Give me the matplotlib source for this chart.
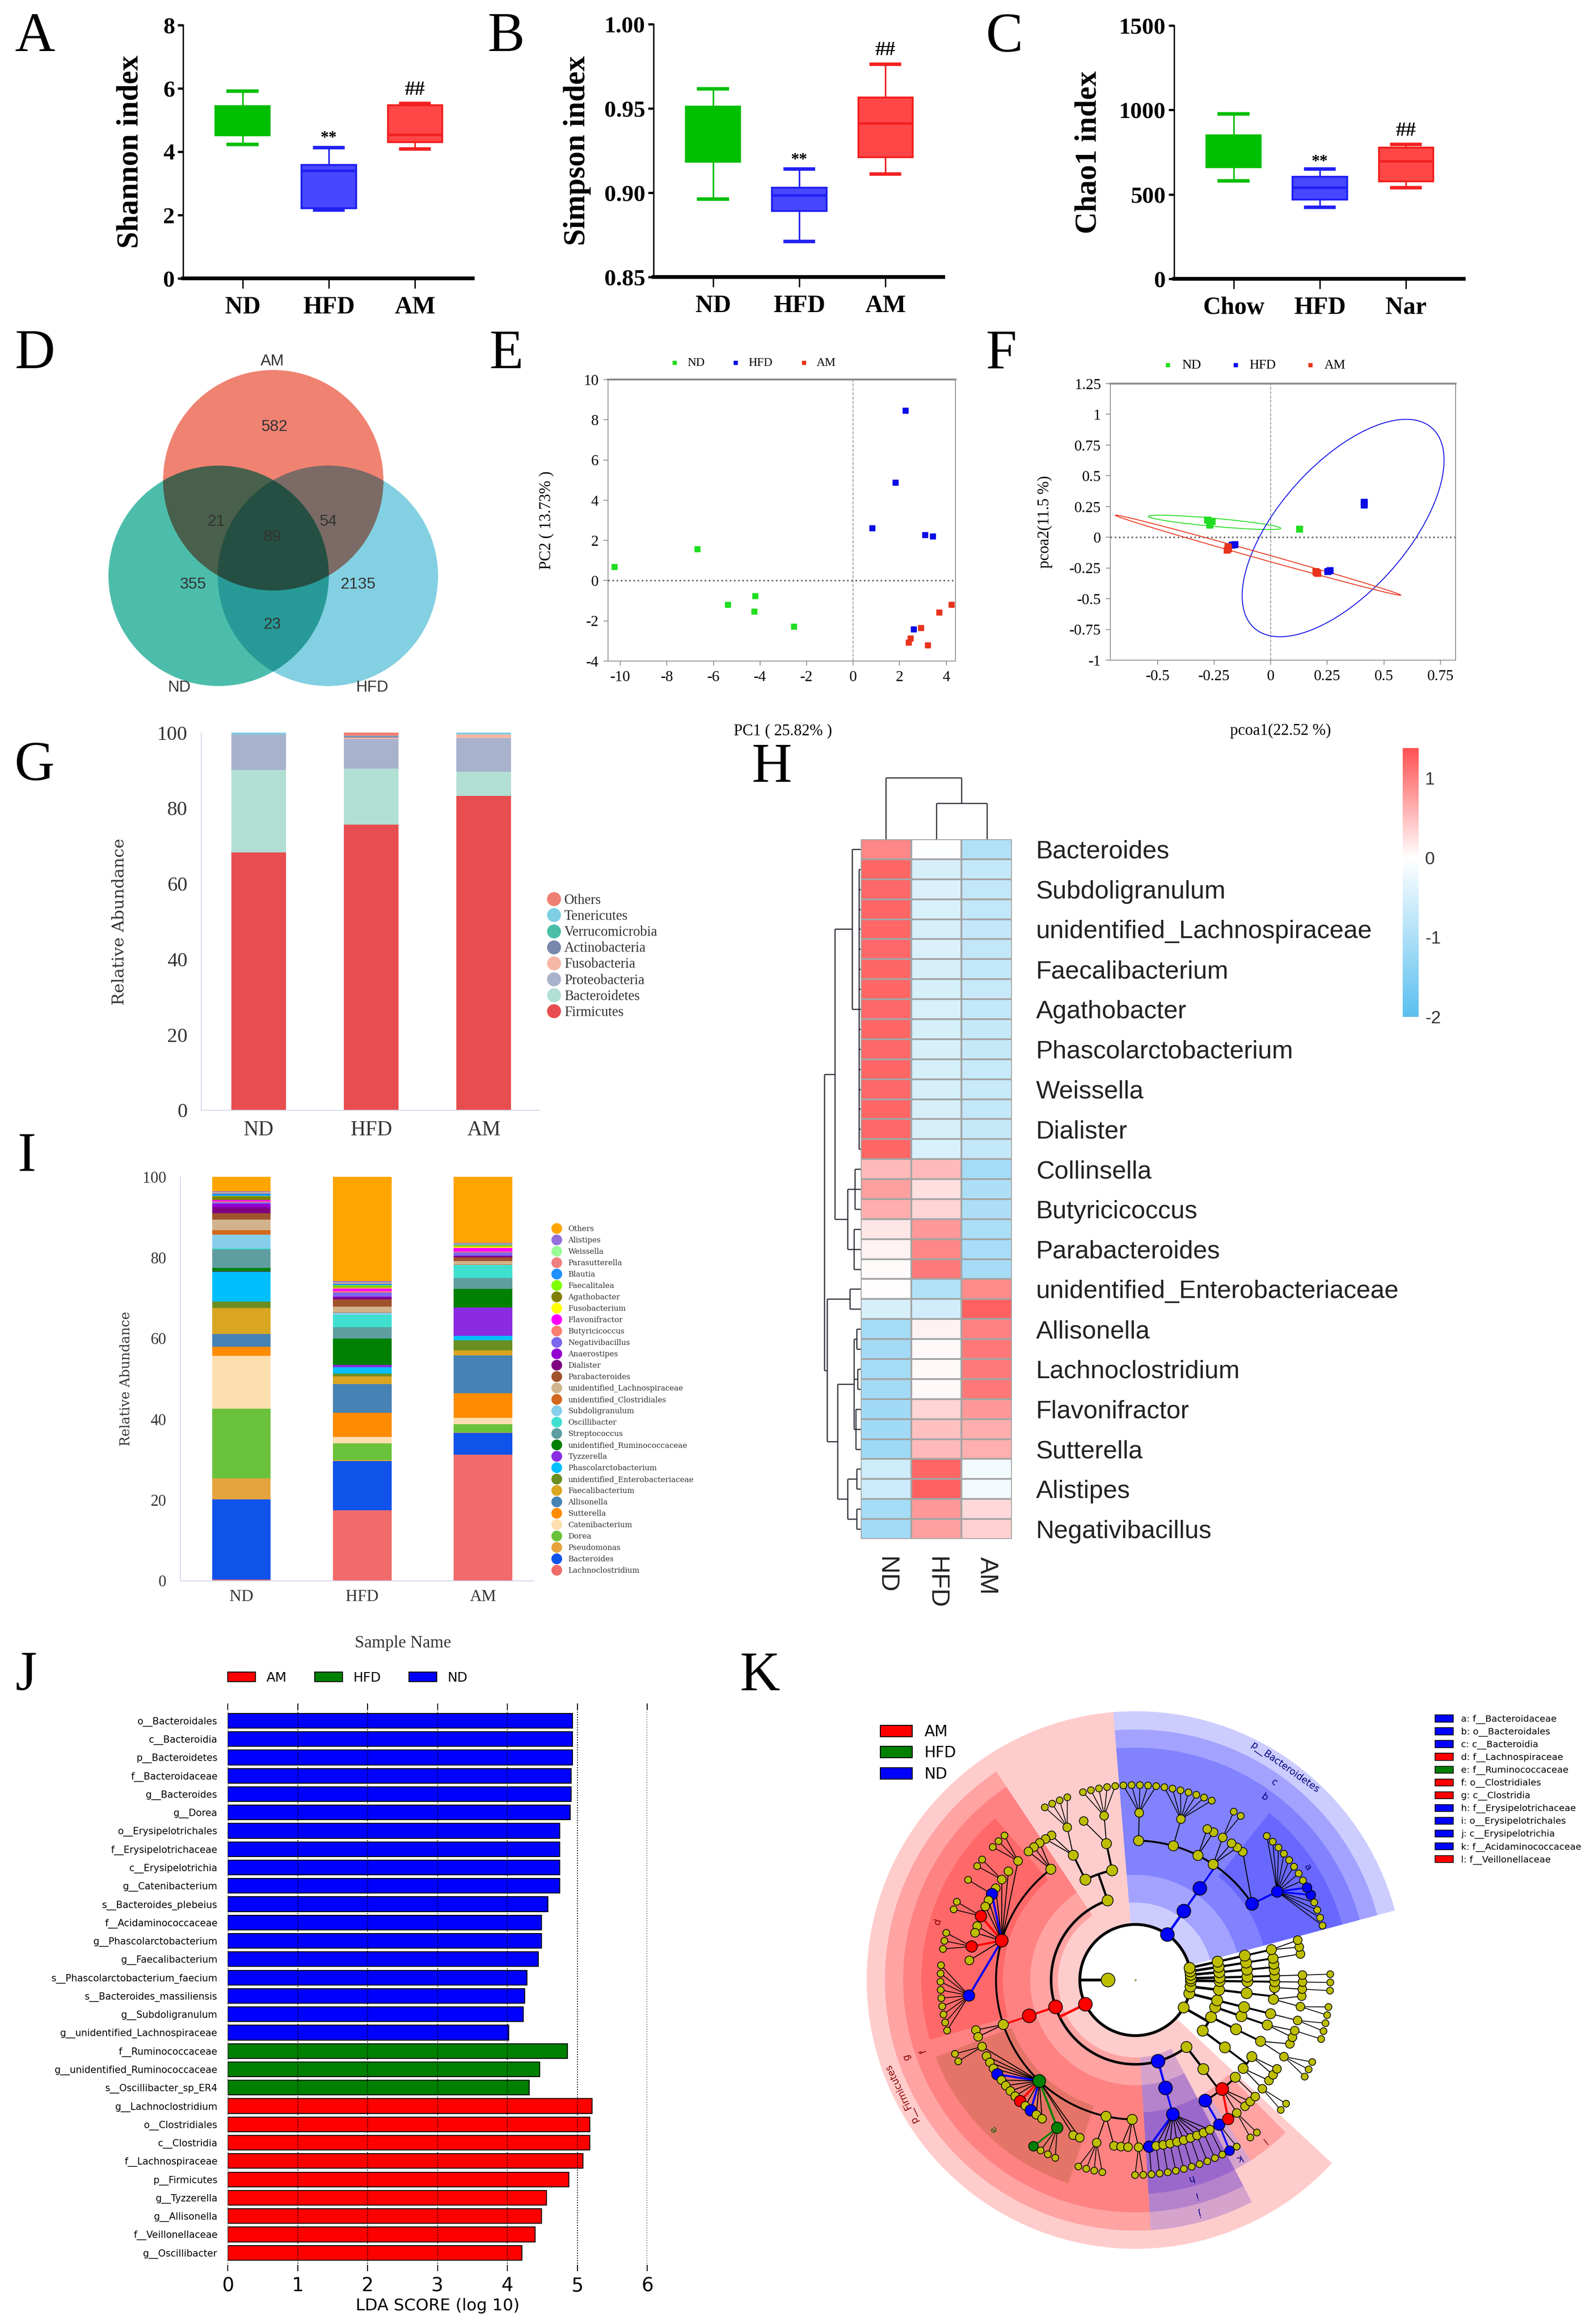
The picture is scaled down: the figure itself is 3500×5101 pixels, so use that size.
import numpy as np
import matplotlib
matplotlib.use("Agg")
import matplotlib.pyplot as plt
from matplotlib.patches import Ellipse, Wedge, Patch
from matplotlib.lines import Line2D
from matplotlib.colors import LinearSegmentedColormap, Normalize, to_rgb

plt.rcParams["axes.unicode_minus"] = False

SERIF = "Liberation Serif"
SANS = "Liberation Sans"
DSANS = "DejaVu Sans"
DSERIF = "DejaVu Serif"

# ------------------------------------------------------------------
# A-C : alpha diversity (whisker low, Q1, median, Q3, whisker high)
# ------------------------------------------------------------------
alpha_groups = ["ND", "HFD", "AM"]
chao_groups = ["Chow", "HFD", "Nar"]
shannon_nd = [4.23, 4.52, 4.95, 5.44, 5.92]
shannon_hfd = [2.16, 2.21, 3.40, 3.58, 4.13]
shannon_am = [4.09, 4.30, 4.53, 5.47, 5.53]
simpson_nd = [0.8961, 0.9184, 0.9350, 0.9510, 0.9616]
simpson_hfd = [0.8711, 0.8891, 0.8983, 0.9029, 0.9141]
simpson_am = [0.9111, 0.9210, 0.9411, 0.9566, 0.9761]
chao1_nd = [579, 661, 760, 850, 977]
chao1_hfd = [423, 469, 539, 605, 651]
chao1_am = [540, 576, 695, 778, 795]
shannon_sig = [4.43, 5.95]     # "**" over HFD, "##" over AM
simpson_sig = [0.9194, 0.9845]
chao1_sig = [692, 878]

# D : venn
venn_sets = ["AM", "ND", "HFD"]
venn_counts = [582, 21, 54, 89, 355, 2135, 23]  # AM, AM&ND, AM&HFD, all, ND, HFD, ND&HFD

# E : PCA
e_nd_x = [-10.26, -6.69, -4.20, -5.38, -4.24, -2.54]
e_nd_y = [0.68, 1.58, -0.75, -1.18, -1.54, -2.28]
e_hfd_x = [2.25, 1.82, 0.82, 3.08, 3.43, 2.60]
e_hfd_y = [8.47, 4.87, 2.61, 2.28, 2.21, -2.41]
e_am_x = [4.22, 3.69, 2.91, 2.47, 2.39, 3.21]
e_am_y = [-1.18, -1.58, -2.34, -2.87, -3.07, -3.21]

# F : PCoA
f_nd_x = [-0.28, -0.27, -0.27, -0.26, -0.27, 0.126]
f_nd_y = [0.14, 0.12, 0.10, 0.13, 0.115, 0.067]
f_hfd_x = [0.413, 0.413, -0.171, 0.252, 0.262, -0.160]
f_hfd_y = [0.285, 0.265, -0.063, -0.276, -0.270, -0.060]
f_am_x = [-0.190, -0.193, -0.188, 0.198, 0.207, 0.200]
f_am_y = [-0.076, -0.102, -0.090, -0.276, -0.293, -0.285]
# confidence ellipses: centre x, centre y, width, height, angle
f_ell_nd = [-0.248, 0.121, 0.593, 0.065, -9.5]
f_ell_hfd = [0.32, 0.075, 1.868, 0.66, 69.9]
f_ell_am = [-0.056, -0.146, 1.42, 0.045, -27.3]

# G : phylum relative abundance (ND, HFD, AM), stacked bottom -> top
g_groups = ["ND", "HFD", "AM"]
g_phyla = ["Firmicutes", "Bacteroidetes", "Proteobacteria", "Fusobacteria",
           "Actinobacteria", "Verrucomicrobia", "Tenericutes", "Others"]
g_firmicutes = [68.3, 75.6, 83.2]
g_bacteroidetes = [21.8, 14.9, 6.4]
g_proteobacteria = [9.4, 7.8, 9.0]
g_fusobacteria = [0.0, 0.4, 0.9]
g_actinobacteria = [0.0, 0.3, 0.05]
g_verrucomicrobia = [0.0, 0.05, 0.0]
g_tenericutes = [0.5, 0.05, 0.45]
g_others = [0.0, 0.9, 0.0]
g_colors = ["#E84E4F", "#B2DFD4", "#A8B2CC", "#F5B7A5", "#7888AC", "#4ABFA8", "#7ECEE4", "#EE7F72"]

# I : genus relative abundance, stacked bottom -> top
i_genera = ["Lachnoclostridium", "Bacteroides", "Pseudomonas", "Dorea", "Catenibacterium",
            "Sutterella", "Allisonella", "Faecalibacterium", "unidentified_Enterobacteriaceae",
            "Phascolarctobacterium", "Tyzzerella", "unidentified_Ruminococcaceae", "Streptococcus",
            "Oscillibacter", "Subdoligranulum", "unidentified_Clostridiales",
            "unidentified_Lachnospiraceae", "Parabacteroides", "Dialister", "Anaerostipes",
            "Negativibacillus", "Butyricicoccus", "Flavonifractor", "Fusobacterium", "Agathobacter",
            "Faecalitalea", "Blautia", "Parasutterella", "Weissella", "Alistipes", "Others"]
i_nd = [0.3, 19.9, 5.2, 17.2, 13.1, 2.2, 3.2, 6.4, 1.6, 7.3, 0.1, 0.9, 4.7, 0.2, 3.4, 1.1,
        2.6, 1.6, 1.5, 0.9, 0.3, 0.2, 0.3, 0.1, 0.8, 0.2, 0.5, 0.2, 0.2, 0.2, 3.6]
i_hfd = [17.5, 12.2, 0.15, 4.2, 1.6, 6.0, 7.0, 2.0, 0.7, 1.5, 0.6, 6.5, 2.8, 3.1, 0.6, 0.1,
         1.3, 1.8, 0.5, 0.2, 1.0, 0.4, 0.6, 0.3, 0.2, 0.3, 0.3, 0.3, 0.1, 0.3, 25.85]
i_am = [31.2, 5.4, 0.1, 2.1, 1.6, 6.1, 9.3, 1.3, 2.4, 1.1, 7.0, 4.7, 2.7, 3.1, 0.1, 0.1,
        0.8, 0.9, 0.4, 0.1, 0.8, 0.2, 0.9, 0.4, 0.1, 0.2, 0.1, 0.1, 0.1, 0.2, 16.4]
i_colors = ["#F26B6B", "#1053EA", "#E6A33E", "#6AC23A", "#FDDEAF", "#FF8C00", "#4682B4",
            "#DAA520", "#6B8E23", "#00BFFF", "#8A2BE2", "#008000", "#5F9EA0", "#40E0D0",
            "#87CEEB", "#D2691E", "#D2B48C", "#A0522D", "#800080", "#9400D3", "#7B68EE",
            "#FA8072", "#FF00FF", "#FFFF00", "#808000", "#7FFF00", "#1E90FF", "#F08080",
            "#98FB98", "#9370DB", "#FFA500"]

# H : heatmap (row z-scores, 35 genera; every other row labelled)
h_cols = ["ND", "HFD", "AM"]
h_nd = [0.95, 1.22, 1.20, 1.22, 1.21, 1.20, 1.22, 1.21, 1.20, 1.22, 1.20, 1.21, 1.20, 1.22,
        1.20, 1.21, 0.55, 0.75, 0.65, 0.20, 0.10, 0.03, 0.02, -0.50, -1.10, -1.12, -1.10,
        -1.12, -1.15, -1.15, -1.18, -0.60, -0.62, -1.10, -1.12]
h_hfd = [-0.02, -0.50, -0.45, -0.48, -0.50, -0.45, -0.50, -0.52, -0.48, -0.52, -0.50, -0.52,
         -0.52, -0.50, -0.50, -0.48, 0.55, 0.25, 0.35, 0.82, 0.95, 1.05, -0.95, -0.55, 0.10,
         0.05, 0.05, 0.05, 0.35, 0.50, 0.55, 1.22, 1.25, 0.80, 0.75]
h_am = [-0.95, -0.72, -0.75, -0.74, -0.71, -0.75, -0.72, -0.69, -0.72, -0.70, -0.70, -0.69,
        -0.68, -0.72, -0.70, -0.73, -1.10, -1.00, -1.00, -1.02, -1.05, -1.08, 0.93, 1.25,
        1.00, 1.07, 1.05, 1.07, 0.80, 0.65, 0.63, -0.15, -0.15, 0.30, 0.37]
h_labels = ["Bacteroides", "Subdoligranulum", "unidentified_Lachnospiraceae", "Faecalibacterium",
            "Agathobacter", "Phascolarctobacterium", "Weissella", "Dialister", "Collinsella",
            "Butyricicoccus", "Parabacteroides", "unidentified_Enterobacteriaceae", "Allisonella",
            "Lachnoclostridium", "Flavonifractor", "Sutterella", "Alistipes", "Negativibacillus"]
# dendrograms: (merge height, children); leaves are row / column indices
h_row_tree = (68, [(48, [(16, [0, (3, list(range(1, 16)))]),
                         (25, [(11, [16, 17, 18]), (13, [19, 20, 21])])]),
                   (63, [(20, [22, 23]),
                         (43, [(13, [(8, [24, 25]), (6, [26, 27]), (9, [28, 29, 30])]),
                               (25, [(8, [31, 32]), (8, [33, 34])])])])])
h_col_tree = (135, [0, (79, [1, 2])])

# J : LEfSe LDA scores
lda_names = ["o__Bacteroidales", "c__Bacteroidia", "p__Bacteroidetes", "f__Bacteroidaceae",
             "g__Bacteroides", "g__Dorea", "o__Erysipelotrichales", "f__Erysipelotrichaceae",
             "c__Erysipelotrichia", "g__Catenibacterium", "s__Bacteroides_plebeius",
             "f__Acidaminococcaceae", "g__Phascolarctobacterium", "g__Faecalibacterium",
             "s__Phascolarctobacterium_faecium", "s__Bacteroides_massiliensis",
             "g__Subdoligranulum", "g__unidentified_Lachnospiraceae", "f__Ruminococcaceae",
             "g__unidentified_Ruminococcaceae", "s__Oscillibacter_sp_ER4", "g__Lachnoclostridium",
             "o__Clostridiales", "c__Clostridia", "f__Lachnospiraceae", "p__Firmicutes",
             "g__Tyzzerella", "g__Allisonella", "f__Veillonellaceae", "g__Oscillibacter"]
lda_scores = [4.93, 4.93, 4.93, 4.91, 4.91, 4.90, 4.75, 4.75, 4.75, 4.75, 4.58, 4.49, 4.49,
              4.44, 4.28, 4.25, 4.23, 4.02, 4.86, 4.46, 4.31, 5.21, 5.18, 5.18, 5.08, 4.88,
              4.56, 4.49, 4.40, 4.21]
lda_groups = ["ND"] * 18 + ["HFD"] * 3 + ["AM"] * 9
lefse_groups = ["AM", "HFD", "ND"]

# K : cladogram, node = (enriched group, clade letter, children)
# children: int = number of plain child leaves, or a list mixing nodes and ints
k_legend_keys = ["a: f__Bacteroidaceae", "b: o__Bacteroidales", "c: c__Bacteroidia",
                 "d: f__Lachnospiraceae", "e: f__Ruminococcaceae", "f: o__Clostridiales",
                 "g: c__Clostridia", "h: f__Erysipelotrichaceae", "i: o__Erysipelotrichales",
                 "j: c__Erysipelotrichia", "k: f__Acidaminococcaceae", "l: f__Veillonellaceae"]
k_legend_groups = ["ND", "ND", "ND", "AM", "HFD", "AM", "AM", "ND", "ND", "ND", "ND", "AM"]
k_bacteroidetes = ("ND", "p__Bacteroidetes", [
    ("ND", "c", [("ND", "b", [
        ("ND", "a", [("ND", "", [4, ("ND", "", 0), ("ND", "", 0), 8]), 1]),
        ("", "", [2, ("", "", 2)]),
        ("", "", [2]),
        ("", "", [("", "", 7)]),
        ("", "", [("", "", 5)]),
    ])])])
k_firmicutes = ("AM", "p__Firmicutes", [
    ("", "", [("", "", [("", "", [("", "", 5), 1])]),
              ("", "", [("", "", [("", "", 4), 2])])]),
    ("AM", "g", [("AM", "f", [
        ("", "", [3]),
        ("AM", "d", [("", "", 3), 1, ("", "", 2), 1, ("ND", "", 1), 2, ("AM", "", 2), 2,
                     ("AM", "", 3), 1, ("ND", "", 9)]),
        ("", "", [2]),
        ("HFD", "e", [("", "", 2), 3, ("ND", "", 0), 4, ("AM", "", 0), 1, ("ND", "", 0), 2,
                      ("HFD", "", [("HFD", "", 0), 3]), 2]),
        ("", "", [("", "", 4), 1]),
        ("", "", [2, ("", "", 2)]),
    ])]),
    ("ND", "j", [("ND", "i", [("ND", "h", [("ND", "", 1), ("", "", 1), ("", "", 1), ("", "", 1),
                                           ("", "", 1), ("", "", 1), ("", "", 1), ("", "", 1),
                                           ("", "", 1), ("", "", 1)])])]),
    ("", "", [("", "", [
        ("ND", "k", [("ND", "", [("ND", "", 0), 1])]),
        ("AM", "l", [("AM", "", 0), ("", "", 2), 2]),
        ("", "", [1]),
    ])]),
])
k_other_phyla = [
    ("", "", [("", "", [("", "", [("", "", [("", "", 2), 1]), ("", "", [2])])]),
              ("", "", [("", "", [("", "", [("", "", 3), 1])])]),
              ("", "", [("", "", [("", "", [1, ("", "", 1)])])])]),
    ("", "", [("", "", [("", "", [("", "", [("", "", 2)])])])]),
    ("", "", [("", "", [("", "", [("", "", [("", "", 2), 1]), ("", "", [("", "", 1)])])])]),
    ("", "", [("", "", [("", "", [("", "", [("", "", 1)])])])]),
    ("", "", [("", "", [("", "", [("", "", [("", "", 1)])])])]),
    ("", "", [("", "", [("", "", [2])])]),
    ("", "", [("", "", [("", "", [("", "", [1])])])]),
    ("", "", [("", "", [("", "", [("", "", 2)])])]),
]
k_tree = ("", "", [k_bacteroidetes, k_firmicutes] + k_other_phyla)

# ------------------------------------------------------------------
# figure
# ------------------------------------------------------------------
W, H = 3500, 5101
fig = plt.figure(figsize=(W / 100, H / 100), dpi=100)


def px_axes(x0, y0, x1, y1):
    return fig.add_axes([x0 / W, 1 - y1 / H, (x1 - x0) / W, (y1 - y0) / H])


def panel_letter(x, y, s):
    fig.text(x / W, 1 - y / H, s, fontsize=88, family=SERIF, ha="left", va="top")


for x, y, s in [(33, 27, "A"), (1071, 27, "B"), (2165, 27, "C"), (33, 722, "D"), (1075, 722, "E"),
                (2165, 722, "F"), (32, 1627, "G"), (1650, 1630, "H"), (39, 2484, "I"),
                (33, 3624, "J"), (1624, 3624, "K")]:
    panel_letter(x, y, s)

# ---------------- A-C box plots ----------------
box_face = ["#00BE00", "#4747FF", "#FF4747"]
box_edge = ["#00BE00", "#2020F2", "#F22020"]


def box_panel(rect, data, cats, ylim, yticks, ylabel, label_x, sig):
    ax = px_axes(*rect)
    for i, vals in enumerate(data):
        st = dict(whislo=vals[0], q1=vals[1], med=vals[2], q3=vals[3], whishi=vals[4], fliers=[])
        ax.bxp([st], positions=[i], widths=0.63, capwidths=0.33, patch_artist=True,
               showfliers=False, manage_ticks=False,
               boxprops=dict(facecolor=box_face[i], edgecolor=box_edge[i], linewidth=3),
               medianprops=dict(color=box_edge[i], linewidth=4),
               whiskerprops=dict(color=box_edge[i], linewidth=2.5),
               capprops=dict(color=box_edge[i], linewidth=5.5))
    ax.text(1, sig[0], "**", ha="center", va="center", fontsize=26, fontweight="bold", family=SERIF)
    ax.text(2, sig[1], "##", ha="center", va="center", fontsize=32, fontweight="bold", family=SERIF)
    ax.set_xlim(-0.69, 2.67)
    ax.set_ylim(*ylim)
    ax.spines[["top", "right"]].set_visible(False)
    ax.spines["left"].set_linewidth(2.2)
    ax.spines["bottom"].set_linewidth(6)
    ax.set_xticks([0, 1, 2], cats, fontsize=39, fontweight="bold", family=SERIF)
    ax.set_yticks(yticks[0], yticks[1], fontsize=37, fontweight="bold", family=SERIF)
    ax.tick_params(axis="y", direction="out", length=9, width=3.5, pad=4)
    ax.tick_params(axis="x", direction="out", length=16, width=2.2, pad=12)
    ax.set_ylabel(ylabel, fontsize=48, fontweight="bold", family=SERIF)
    ax.yaxis.set_label_coords(label_x, 0.5)
    return ax


box_panel((402, 55, 1038, 611), [shannon_nd, shannon_hfd, shannon_am], alpha_groups, (0, 8),
          ([0, 2, 4, 6, 8], ["0", "2", "4", "6", "8"]), "Shannon index", -0.135, shannon_sig)
box_panel((1435, 53, 2071, 608), [simpson_nd, simpson_hfd, simpson_am], alpha_groups, (0.85, 1.0),
          ([0.85, 0.90, 0.95, 1.00], ["0.85", "0.90", "0.95", "1.00"]), "Simpson index", -0.215,
          simpson_sig)
box_panel((2578, 56, 3214, 612), [chao1_nd, chao1_hfd, chao1_am], chao_groups, (0, 1500),
          ([0, 500, 1000, 1500], ["0", "500", "1000", "1500"]), "Chao1 index", -0.247, chao1_sig)

# ---------------- D venn ----------------
venn_colors = ["#F08272", "#4DBEAB", "#83D0E2"]
venn_centers = [(600, 1054), (480, 1264), (720, 1264)]
venn_r = 242
venn_set_xy = [(598, 793), (393, 1508), (817, 1508)]
venn_count_xy = [(603, 937), (475, 1145), (721, 1145), (598, 1178), (424, 1283), (786, 1283),
                 (598, 1371)]
axd = px_axes(150, 760, 1000, 1560)
gx, gy = np.meshgrid(np.arange(150, 1000, 0.5) + 0.25, np.arange(760, 1560, 0.5) + 0.25)
rgb = np.ones(gx.shape + (3,))
inside = np.zeros(gx.shape, bool)
for (cx, cy), col in zip(venn_centers, venn_colors):
    m = (gx - cx) ** 2 + (gy - cy) ** 2 <= venn_r ** 2
    rgb[m] *= np.array(to_rgb(col))
    inside |= m
axd.imshow(np.dstack([rgb, inside.astype(float)]), extent=(150, 1000, 1560, 760),
           interpolation="antialiased")
axd.set_xlim(150, 1000)
axd.set_ylim(1560, 760)
axd.axis("off")
for (x, y), s in zip(venn_set_xy, venn_sets):
    axd.text(x, y, s, ha="center", va="center", fontsize=25, family=SANS, color="#333333")
for (x, y), n in zip(venn_count_xy, venn_counts):
    axd.text(x, y, str(n), ha="center", va="center", fontsize=25, family=SANS, color="#333333")

# ---------------- E / F ordination ----------------
C_ND, C_HFD, C_AM = "#22DD22", "#0A0AE6", "#E8341C"


def ordination_axes(rect):
    ax = px_axes(*rect)
    for side in ["top", "bottom", "left", "right"]:
        ax.spines[side].set_color("#8C8C8C")
        ax.spines[side].set_linewidth(1.3)
    ax.spines["top"].set_linewidth(3)
    ax.tick_params(direction="out", length=7, width=1.3, color="#8C8C8C", labelsize=24, pad=8)
    ax.axvline(0, color="#999999", ls="--", lw=1.3, zorder=1)
    ax.axhline(0, color="#666666", ls=":", lw=2.5, zorder=1)
    return ax


axe = ordination_axes((1335, 833, 2098, 1451))
axe.scatter(e_nd_x, e_nd_y, marker="s", s=70, color=C_ND, label="ND", zorder=3)
axe.scatter(e_hfd_x, e_hfd_y, marker="s", s=70, color=C_HFD, label="HFD", zorder=3)
axe.scatter(e_am_x, e_am_y, marker="s", s=70, color=C_AM, label="AM", zorder=3)
axe.set_xlim(-10.53, 4.4)
axe.set_ylim(-4, 10)
axe.set_xticks(range(-10, 5, 2), [str(v) for v in range(-10, 5, 2)], family=SERIF)
axe.set_yticks(range(-4, 11, 2), [str(v) for v in range(-4, 11, 2)], family=SERIF)
axe.set_xlabel("PC1 ( 25.82% )", fontsize=25, family=SERIF)
axe.xaxis.set_label_coords(0.503, -0.222)
axe.set_ylabel("PC2 ( 13.73% )", fontsize=25, family=SERIF)
axe.yaxis.set_label_coords(-0.155, 0.5)
axe.legend(loc="center", bbox_to_anchor=(0.406, 1.06), ncol=3, frameon=False,
           prop=dict(family=SERIF, size=19), handletextpad=0.05, columnspacing=1.6,
           markerscale=0.7, borderpad=0)

axf = ordination_axes((2438, 842, 3196, 1449))
for ell, col in [(f_ell_nd, C_ND), (f_ell_hfd, C_HFD), (f_ell_am, C_AM)]:
    axf.add_patch(Ellipse((ell[0], ell[1]), ell[2], ell[3], angle=ell[4], fill=False,
                          edgecolor=col, lw=1.4, zorder=2))
axf.scatter(f_nd_x, f_nd_y, marker="s", s=110, color=C_ND, label="ND", zorder=3)
axf.scatter(f_hfd_x, f_hfd_y, marker="s", s=110, color=C_HFD, label="HFD", zorder=3)
axf.scatter(f_am_x, f_am_y, marker="s", s=110, color=C_AM, label="AM", zorder=3)
axf.set_xlim(-0.709, 0.817)
axf.set_ylim(-1, 1.25)
f_xt = [-0.5, -0.25, 0, 0.25, 0.5, 0.75]
f_yt = [-1, -0.75, -0.5, -0.25, 0, 0.25, 0.5, 0.75, 1, 1.25]
axf.set_xticks(f_xt, [f"{v:g}" for v in f_xt], family=SERIF)
axf.set_yticks(f_yt, [f"{v:g}" for v in f_yt], family=SERIF)
axf.set_xlabel("pcoa1(22.52 %)", fontsize=25, family=SERIF)
axf.xaxis.set_label_coords(0.493, -0.229)
axf.set_ylabel("pcoa2(11.5 %)", fontsize=25, family=SERIF)
axf.yaxis.set_label_coords(-0.168, 0.5)
axf.legend(loc="center", bbox_to_anchor=(0.405, 1.066), ncol=3, frameon=False,
           prop=dict(family=SERIF, size=21), handletextpad=0.05, columnspacing=1.6,
           markerscale=0.6, borderpad=0)

# ---------------- G phylum stacked bars ----------------
LAV = "#D3D8EC"
axg = px_axes(442, 1608, 1186, 2437)
g_series = [g_firmicutes, g_bacteroidetes, g_proteobacteria, g_fusobacteria, g_actinobacteria,
            g_verrucomicrobia, g_tenericutes, g_others]
bottom = np.zeros(3)
for vals, col in zip(g_series, g_colors):
    axg.bar(range(3), vals, 0.486, bottom=bottom, color=col, lw=0)
    bottom += np.array(vals)
axg.set_xlim(-0.51, 2.5)
axg.set_ylim(0, 100)
axg.spines[["top", "right"]].set_visible(False)
axg.spines[["left", "bottom"]].set_color(LAV)
axg.spines[["left", "bottom"]].set_linewidth(1.5)
axg.set_xticks(range(3), g_groups, fontsize=33, family=SERIF, color="#333333")
axg.set_yticks(range(0, 101, 20), [str(v) for v in range(0, 101, 20)], fontsize=32, family=SERIF,
               color="#333333")
axg.tick_params(length=0)
axg.tick_params(axis="y", pad=22)
axg.tick_params(axis="x", pad=16)
axg.set_ylabel("Relative Abundance", fontsize=26, family=DSERIF, color="#333333")
axg.yaxis.set_label_coords(-0.22, 0.5)
g_handles = [Line2D([], [], ls="", marker="o", ms=21, mfc=c, mec=c) for c in g_colors[::-1]]
axg.legend(g_handles, g_phyla[::-1], loc="upper left", bbox_to_anchor=(1199 / W, 1 - 1962 / H),
           bbox_transform=fig.transFigure, frameon=False, prop=dict(family=SERIF, size=22),
           handlelength=1.1, handletextpad=0.2, labelspacing=0.2, borderpad=0, borderaxespad=0,
           labelcolor="#333333")

# ---------------- I genus stacked bars ----------------
axi = px_axes(396, 2583, 1172, 3470)
bottom = np.zeros(3)
for a, b, c, col in zip(i_nd, i_hfd, i_am, i_colors):
    vals = np.array([a, b, c])
    axi.bar(range(3), vals, 0.486, bottom=bottom, color=col, lw=0)
    bottom += vals
axi.set_xlim(-0.505, 2.42)
axi.set_ylim(0, 100)
axi.spines[["top", "right"]].set_visible(False)
axi.spines[["left", "bottom"]].set_color(LAV)
axi.spines[["left", "bottom"]].set_linewidth(1.5)
axi.set_xticks(range(3), g_groups, fontsize=26, family=SERIF, color="#333333")
axi.set_yticks(range(0, 101, 20), [str(v) for v in range(0, 101, 20)], fontsize=25, family=SERIF,
               color="#333333")
axi.tick_params(length=0)
axi.tick_params(axis="y", pad=22)
axi.tick_params(axis="x", pad=14)
axi.set_ylabel("Relative Abundance", fontsize=21, family=DSERIF, color="#333333")
axi.yaxis.set_label_coords(-0.135, 0.5)
axi.set_xlabel("Sample Name", fontsize=27, family=SERIF, color="#333333")
axi.xaxis.set_label_coords(0.63, -0.135)
i_handles = [Line2D([], [], ls="", marker="o", ms=16, mfc=c, mec=c) for c in i_colors[::-1]]
axi.legend(i_handles, i_genera[::-1], loc="upper left", bbox_to_anchor=(1210 / W, 1 - 2689 / H),
           bbox_transform=fig.transFigure, frameon=False, prop=dict(family=DSERIF, size=12),
           handlelength=1.4, handletextpad=0.85, labelspacing=0.48, borderpad=0, borderaxespad=0,
           labelcolor="#333333")

# ---------------- H heatmap ----------------
hm_cmap = LinearSegmentedColormap.from_list(
    "hm", [(0, "#5BBFEF"), (2 / 3.38, "#FFFFFF"), (1, "#FF5252")])
hm_norm = Normalize(vmin=-2, vmax=1.38)
hm = np.column_stack([h_nd, h_hfd, h_am])
n_rows = hm.shape[0]
axh = px_axes(1890, 1842, 2222, 3378)
mesh = axh.pcolormesh(np.arange(4), np.arange(n_rows + 1), hm, cmap=hm_cmap, norm=hm_norm,
                      edgecolors="#A5A5A5", linewidth=1.6)
axh.set_xlim(0, 3)
axh.set_ylim(n_rows, 0)
for s in axh.spines.values():
    s.set_visible(False)
axh.yaxis.tick_right()
axh.set_yticks(np.arange(0, n_rows, 2) + 0.5, h_labels, fontsize=40, family=SANS, color="#222222")
axh.set_xticks(np.arange(3) + 0.5, h_cols, fontsize=40, family=SANS, rotation=-90, color="#222222")
axh.tick_params(length=0)
axh.tick_params(axis="y", pad=38)
axh.tick_params(axis="x", pad=28)


def dendro(ax, node, orient):
    if isinstance(node, int):
        return node + 0.5, 0.0
    h, kids = node
    res = [dendro(ax, k, orient) for k in kids]
    pos = [p for p, _ in res]
    segs = [((p, kh), (p, h)) for p, kh in res] + [((min(pos), h), (max(pos), h))]
    for (p0, h0), (p1, h1) in segs:
        if orient == "row":
            ax.plot([h0, h1], [p0, p1], color="#2B2B35", lw=1.8, solid_capstyle="butt")
        else:
            ax.plot([p0, p1], [h0, h1], color="#2B2B35", lw=1.8, solid_capstyle="butt")
    return (min(pos) + max(pos)) / 2, h


axrd = px_axes(1809, 1842, 1890, 3378)
dendro(axrd, h_row_tree, "row")
axrd.set_xlim(68.7, 0)
axrd.set_ylim(n_rows, 0)
axrd.axis("off")
axcd = px_axes(1890, 1700, 2222, 1842)
dendro(axcd, h_col_tree, "col")
axcd.set_xlim(0, 3)
axcd.set_ylim(0, 142)
axcd.axis("off")
cax = px_axes(3080, 1642, 3115, 2232)
cb = fig.colorbar(mesh, cax=cax, ticks=[-2, -1, 0, 1])
cb.outline.set_visible(False)
cax.tick_params(length=0, labelsize=28, pad=10)
for t in cax.get_yticklabels():
    t.set_family(SANS)
    t.set_color("#333333")

# ---------------- J LDA bars ----------------
GROUP_COL = {"AM": "#FF0000", "HFD": "#008000", "ND": "#0000FF"}
axj = px_axes(500, 3739, 1421, 4985)
axj.barh(range(len(lda_scores)), lda_scores, height=0.8,
         color=[GROUP_COL[g] for g in lda_groups], edgecolor="black", lw=1.5, zorder=1)
axj.set_xlim(0, 6)
axj.set_ylim(30.0, -0.94)
axj.set_axisbelow(False)
axj.grid(axis="x", color="black", ls=":", lw=1.5, zorder=3)
for s in axj.spines.values():
    s.set_visible(False)
axj.set_yticks(range(len(lda_names)), lda_names, fontsize=15, family=DSANS)
axj.set_xticks(range(7), [str(v) for v in range(7)], fontsize=30, family=DSANS)
axj.tick_params(axis="y", length=0, pad=16)
axj.tick_params(axis="x", direction="in", top=True, bottom=True, length=10, width=1.5, pad=8)
axj.set_xlabel("LDA SCORE (log 10)", fontsize=26, family=DSANS)
axj.legend([Patch(facecolor=GROUP_COL[g], edgecolor="black", lw=1.5) for g in lefse_groups],
           lefse_groups, loc="center left", bbox_to_anchor=(0.0, 1.045), ncol=3, frameon=False,
           prop=dict(family=DSANS, size=21), handlelength=2.1, handleheight=0.75,
           handletextpad=0.8, columnspacing=2.1, borderpad=0, borderaxespad=0)

# ---------------- K cladogram ----------------
KX, KY = 2493, 5101 - 4346
R_LEVEL = [60, 122, 185, 246, 306, 367, 428]
WEDGE_OUT = {1: 590, 2: 550, 3: 510, 4: 470}
LABEL_R = {1: 570, 2: 530, 3: 491, 4: 452}
EDGE_LW = {0: 4.5, 1: 4.0, 2: 3.5, 3: 3.0, 4: 1.5, 5: 1.3}
NODE_PX = {0: 30, 1: 24, 2: 24, 3: 24, 4: 22, 5: 19, 6: 15}
LABEL_COL = {"AM": "#8B0000", "HFD": "#006400", "ND": "#000080"}
YELLOW = "#BEBE00"
K_START = 15.0


def expand(kids):
    if isinstance(kids, int):
        return [("", "", 0)] * kids
    out = []
    for k in kids:
        out.extend([("", "", 0)] * k if isinstance(k, int) else [k])
    return out


def count_leaves(node):
    kids = expand(node[2])
    return 1 if not kids else sum(count_leaves(k) for k in kids)


k_step = 360.0 / count_leaves(k_tree)


def layout(node, level, counter):
    grp, lab, kids = node
    rec = dict(grp=grp, lab=lab, level=level, kids=[])
    kids = expand(kids)
    if not kids:
        a = K_START + (counter[0] + 0.5) * k_step
        counter[0] += 1
        rec.update(angle=a, leaves=[a])
    else:
        rec["kids"] = [layout(k, level + 1, counter) for k in kids]
        leaves = [a for c in rec["kids"] for a in c["leaves"]]
        rec.update(angle=float(np.mean(leaves)), leaves=leaves)
    return rec


k_root = layout(k_tree, 0, [0])
k_root["angle"] = 180.0


def kxy(r, a):
    t = np.deg2rad(a)
    return KX + r * np.cos(t), KY + r * np.sin(t)


axk = px_axes(1600, 3600, 3500, 5101)
axk.set_xlim(1600, 3500)
axk.set_ylim(0, 1501)
axk.axis("off")
k_nodes = []


def draw_clade(rec):
    L = rec["level"]
    col = GROUP_COL.get(rec["grp"], "black")
    kids = rec["kids"]
    if kids:
        lw = EDGE_LW[L]
        if L == 0:
            t = np.linspace(0, 360, 400)
            axk.plot(*kxy(R_LEVEL[1], t), color="black", lw=lw, zorder=2)
        elif L <= 3 and len(kids) > 1:
            angs = [k["angle"] for k in kids]
            t = np.linspace(min(angs), max(angs), 200)
            axk.plot(*kxy(R_LEVEL[L + 1], t), color="black", lw=lw, zorder=2)
        if L <= 3:
            x0, y0 = kxy(R_LEVEL[L], rec["angle"])
            x1, y1 = kxy(R_LEVEL[L + 1], rec["angle"])
            axk.plot([x0, x1], [y0, y1], color=col, lw=lw, zorder=2, solid_capstyle="butt")
        else:
            x0, y0 = kxy(R_LEVEL[L], rec["angle"])
            for k in kids:
                x1, y1 = kxy(R_LEVEL[L + 1], k["angle"])
                kc = GROUP_COL.get(k["grp"], "black")
                axk.plot([x0, x1], [y0, y1], color=kc, lw=lw * (2.2 if k["grp"] else 1.0),
                         zorder=2)
        for k in kids:
            draw_clade(k)
    if rec["lab"]:
        a0 = min(rec["leaves"]) - k_step / 2
        a1 = max(rec["leaves"]) + k_step / 2
        r_out = WEDGE_OUT[L]
        r_in = R_LEVEL[1] if L == 1 else R_LEVEL[L] - 15
        axk.add_patch(Wedge((KX, KY), r_out, a0, a1, width=r_out - r_in, facecolor=col,
                            alpha=0.2, lw=0, zorder=1))
        am = (a0 + a1) / 2
        axk.text(*kxy(LABEL_R[L], am), rec["lab"], rotation=am - 90, rotation_mode="anchor",
                 ha="center", va="center", fontsize=15, family=DSANS,
                 color=LABEL_COL[rec["grp"]], zorder=4)
    size = NODE_PX[L] + (6 if rec["grp"] else 0)
    k_nodes.append((*kxy(R_LEVEL[L], rec["angle"]), size, col if rec["grp"] else YELLOW))


draw_clade(k_root)
kn = np.array([(x, y, s) for x, y, s, _ in k_nodes])
axk.scatter(kn[:, 0], kn[:, 1], s=(kn[:, 2] / 1.389) ** 2, c=[c for *_, c in k_nodes],
            edgecolors="black", linewidths=1.2, zorder=3)
axk.scatter([KX], [KY], s=6, color="#9A9A60", zorder=3)

leg1 = axk.legend([Patch(facecolor=GROUP_COL[g], edgecolor="black", lw=1.5) for g in lefse_groups],
                  lefse_groups, loc="upper left", bbox_to_anchor=(1933, 5101 - 3785),
                  bbox_transform=axk.transData, frameon=False, prop=dict(family=DSANS, size=24),
                  handlelength=2.1, handleheight=0.78, handletextpad=0.8, labelspacing=0.4,
                  borderpad=0, borderaxespad=0)
axk.add_artist(leg1)
axk.legend([Patch(facecolor=GROUP_COL[g], edgecolor="black", lw=1.2) for g in k_legend_groups],
           k_legend_keys, loc="upper left", bbox_to_anchor=(3151, 5101 - 3764),
           bbox_transform=axk.transData, frameon=False, prop=dict(family=DSANS, size=14.5),
           handlelength=2.0, handleheight=0.8, handletextpad=0.85, labelspacing=0.4,
           borderpad=0, borderaxespad=0)

fig.savefig("out.png", dpi=100)
